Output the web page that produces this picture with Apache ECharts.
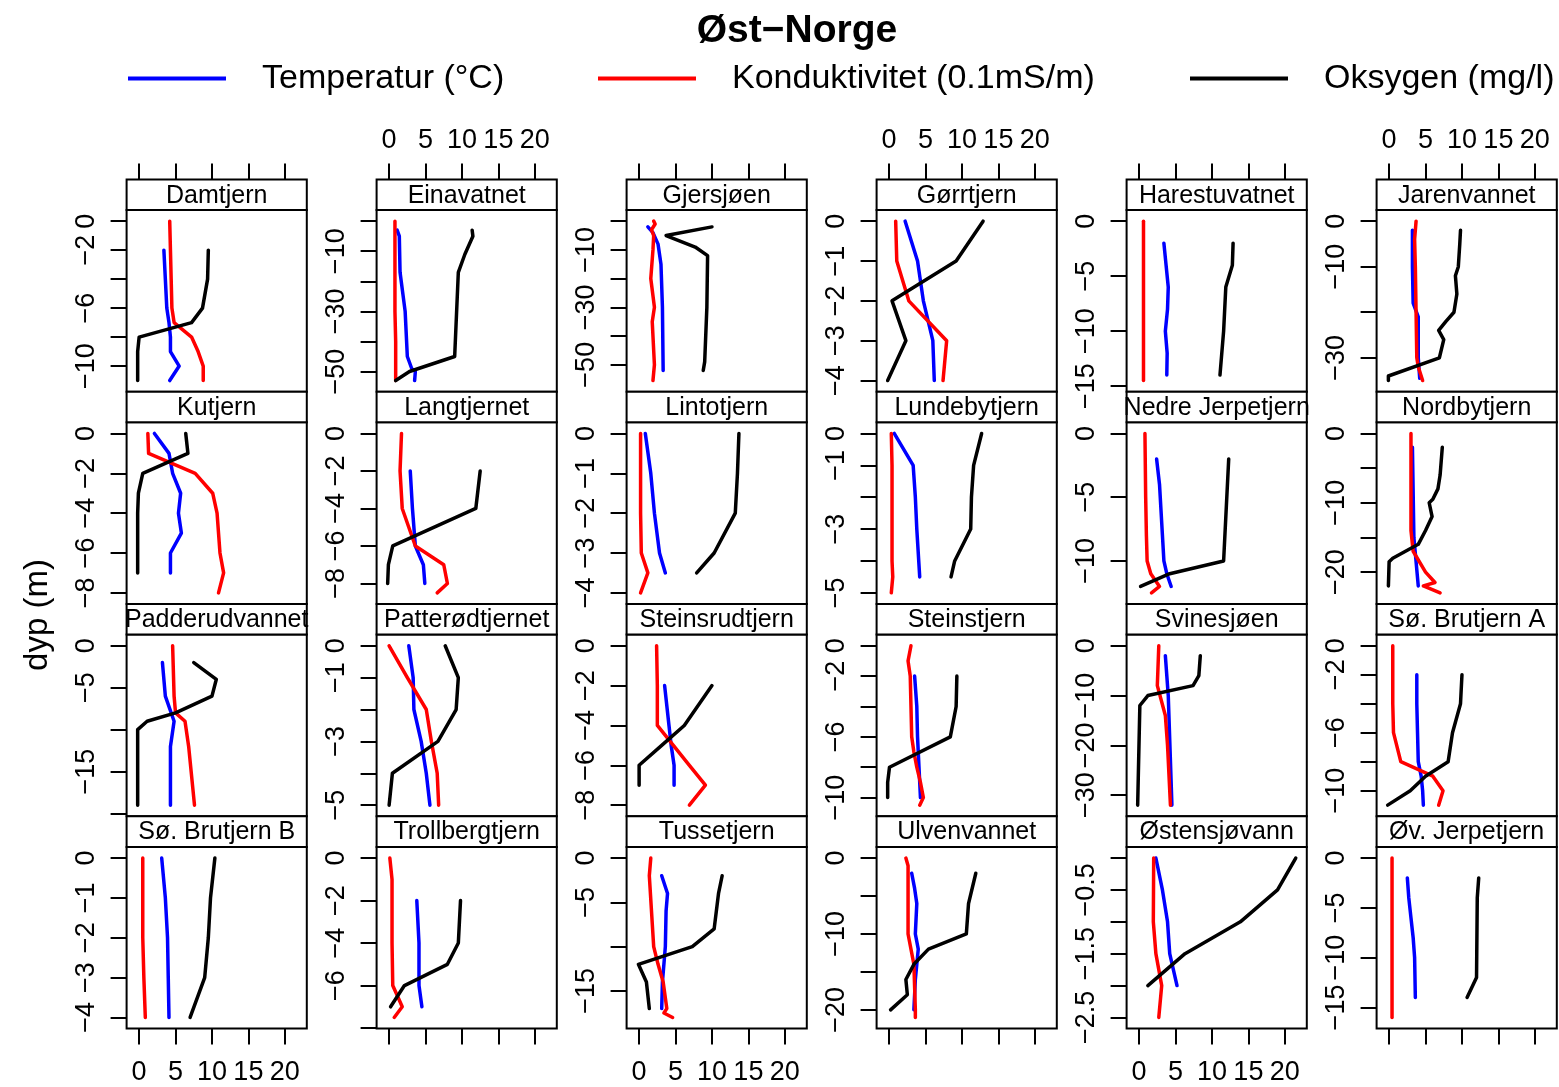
<!DOCTYPE html>
<html><head><meta charset="utf-8">
<script src="https://cdn.jsdelivr.net/npm/echarts@6/dist/echarts.min.js"></script>
<style>html,body{margin:0;padding:0;background:#fff}#c{width:1559px;height:1087px}</style>
</head><body><div id="c"></div>
<script>
// ---------- DATA ----------
const lakes = ['Damtjern','Einavatnet','Gjersjøen','Gørrtjern','Harestuvatnet','Jarenvannet',
  'Kutjern','Langtjernet','Lintotjern','Lundebytjern','Nedre Jerpetjern','Nordbytjern',
  'Padderudvannet','Patterødtjernet','Steinsrudtjern','Steinstjern','Svinesjøen','Sø. Brutjern A',
  'Sø. Brutjern B','Trollbergtjern','Tussetjern','Ulvenvannet','Østensjøvann','Øv. Jerpetjern'];

// each entry: [depth (m), value]
const temperatur = [
  [[-2,3.4],[-4,3.6],[-6,3.8],[-7,4.1],[-8,4.3],[-9,4.3],[-10,5.5],[-11,4.2]],
  [[-3,1.1],[-5,1.4],[-17,1.5],[-30,2.2],[-45,2.5],[-49,3.1],[-50,3.6],[-53,3.5]],
  [[-2,1.2],[-4,1.9],[-8,2.6],[-15,3.0],[-30,3.2],[-52,3.3]],
  [[0,2.2],[-1,3.9],[-2,4.7],[-3,6.0],[-4,6.2]],
  [[-2,3.4],[-4,3.7],[-6,4.0],[-8,3.9],[-10,3.6],[-12,3.85],[-14,3.8]],
  [[-2,3.2],[-10,3.2],[-18,3.3],[-21,4.0],[-30,4.0],[-34.5,4.2]],
  [[0,2.1],[-1,4.1],[-2,4.6],[-3,5.7],[-4,5.4],[-5,5.8],[-6,4.3],[-7,4.3]],
  [[-2,2.9],[-4,3.2],[-6,3.6],[-7,4.7],[-8,4.9]],
  [[0,0.85],[-1,1.6],[-2,2.1],[-3,2.8],[-3.5,3.6]],
  [[0,0.7],[-1,3.3],[-2,3.6],[-3,3.8],[-4.5,4.2]],
  [[-2,2.4],[-4,2.8],[-6,3.0],[-8,3.2],[-10,3.4],[-11,3.8],[-12,4.4]],
  [[-2,3.2],[-15,3.4],[-22,4.0]],
  [[-2,3.2],[-6,3.6],[-9,4.8],[-12,4.3],[-19,4.3]],
  [[0,2.7],[-1,3.3],[-2,3.4],[-3,4.4],[-4,5.1],[-5,5.6]],
  [[-2,3.5],[-4,4.1],[-5,4.4],[-6,4.8],[-7,4.8]],
  [[-2,3.5],[-4,3.8],[-6,3.9],[-8,4.1],[-10,4.3]],
  [[-2,3.6],[-10,4.0],[-32,4.5]],
  [[-2,3.8],[-4,3.8],[-6,3.9],[-8,4.0],[-9,4.4],[-10,4.6],[-11,4.7]],
  [[0,3.1],[-1,3.6],[-2,3.9],[-3,4.0],[-4,4.1]],
  [[-2,3.8],[-4,4.1],[-6,4.1],[-7,4.5]],
  [[-2,3.1],[-4,3.9],[-6,3.7],[-10,3.6],[-14,3.2],[-17,3.1]],
  [[-2,3.1],[-4,3.5],[-6,3.8],[-10,3.6],[-12,4.0],[-16,3.6],[-20,3.4]],
  [[0,2.3],[-0.5,3.2],[-1,3.9],[-1.5,4.2],[-2,5.2]],
  [[-2,2.5],[-4,2.7],[-6,3.0],[-8,3.3],[-10,3.5],[-14,3.6]]
];
const konduktivitet = [
  [[0,4.2],[-2,4.3],[-4,4.4],[-6,4.5],[-7,4.8],[-8,7.2],[-9,8.1],[-10,8.8],[-11,8.8]],
  [[0,0.8],[-10,0.8],[-20,0.8],[-30,0.8],[-40,0.9],[-53,0.9]],
  [[0,2.0],[-1,2.2],[-3,1.7],[-5,2.0],[-10,1.9],[-20,1.6],[-30,2.1],[-35,1.8],[-50,2.1],[-55.5,1.9]],
  [[0,0.9],[-1,1.05],[-2,2.7],[-3,7.9],[-4,7.4]],
  [[0,0.6],[-5,0.6],[-10,0.6],[-14.5,0.6]],
  [[0,3.7],[-4,3.5],[-10,3.6],[-20,3.7],[-30,3.8],[-32,4.0],[-35,4.6]],
  [[0,1.2],[-1,1.3],[-2,7.7],[-3,10.1],[-4,10.7],[-6,11.1],[-7,11.6],[-8,10.9]],
  [[0,1.7],[-2,1.5],[-4,1.8],[-6,3.6],[-7,7.5],[-8,8.0],[-8.5,6.6]],
  [[0,0.2],[-2,0.2],[-3,0.3],[-3.5,1.2],[-4,0.2]],
  [[0,0.3],[-1,0.4],[-4,0.4],[-4.5,0.5],[-5,0.3]],
  [[0,0.8],[-5,0.9],[-8,1.0],[-10,1.1],[-11,1.6],[-12,2.8],[-12.5,1.7]],
  [[0,3.0],[-5,3.0],[-10,3.0],[-14,3.0],[-17,3.3],[-20,5.0],[-21.5,6.3],[-22,4.7],[-23,7.0]],
  [[0,4.6],[-6,4.8],[-8,5.0],[-9,6.3],[-12,6.8],[-19,7.6]],
  [[0,0.0],[-1,2.5],[-2,5.1],[-3,5.8],[-4,6.6],[-5,6.8]],
  [[0,2.4],[-2,2.5],[-4,2.5],[-5,4.7],[-6,6.9],[-7,9.1],[-8,6.9]],
  [[0,3.0],[-1,2.6],[-2,2.9],[-6,3.1],[-7,3.4],[-8,3.8],[-9,4.3],[-10,4.7],[-10.5,4.2]],
  [[0,2.7],[-8,2.5],[-14,3.6],[-20,3.9],[-32,4.3]],
  [[0,0.5],[-2,0.5],[-4,0.5],[-6,0.6],[-8,1.6],[-9,6.0],[-10,7.4],[-11,6.8]],
  [[0,0.5],[-2,0.5],[-3,0.65],[-4,0.85]],
  [[0,0.1],[-1,0.4],[-2,0.4],[-4,0.4],[-6,0.5],[-7,1.8],[-7.5,0.7]],
  [[0,1.6],[-2,1.4],[-10,2.0],[-12,2.6],[-14,3.3],[-17,3.8],[-17.5,3.4],[-18,4.6]],
  [[0,2.3],[-1,2.6],[-10,2.6],[-14,3.4],[-20,3.6],[-21,3.6]],
  [[0,2.0],[-1,1.95],[-1.5,2.3],[-2,3.1],[-2.5,2.7]],
  [[0,0.4],[-5,0.4],[-10,0.4],[-16,0.4]]
];
const oksygen = [
  [[-2,9.5],[-4,9.4],[-6,8.7],[-7,7.2],[-8,0.0],[-9,-0.2],[-11,-0.2]],
  [[-3,11.4],[-5,11.5],[-11,10.4],[-17,9.5],[-45,9.0],[-50,2.8],[-53,0.9]],
  [[-2,10.0],[-5,3.7],[-9,7.7],[-12,9.4],[-30,9.3],[-49,9.0],[-52,8.8]],
  [[0,12.9],[-1,9.2],[-2,0.4],[-3,2.3],[-4,-0.2]],
  [[-2,12.9],[-4,12.8],[-6,11.9],[-10,11.6],[-14,11.1]],
  [[-2,9.8],[-5,9.7],[-10,9.5],[-12,9.1],[-16,9.3],[-20,8.9],[-22,7.8],[-24,6.8],[-26,7.5],[-30,6.9],[-34,-0.1],[-35,-0.1]],
  [[0,6.4],[-1,6.7],[-2,0.5],[-3,-0.1],[-4,-0.2],[-7,-0.2]],
  [[-2,12.5],[-4,11.9],[-6,0.5],[-7,-0.1],[-8,-0.2]],
  [[0,13.7],[-1,13.5],[-2,13.2],[-3,10.3],[-3.5,7.9]],
  [[0,12.7],[-1,11.6],[-2,11.3],[-3,11.2],[-4,9.0],[-4.5,8.5]],
  [[-2,12.3],[-10,11.6],[-11,4.2],[-12,0.2]],
  [[-2,7.3],[-6,7.0],[-8,6.7],[-9.5,6.0],[-10,5.5],[-12,5.9],[-14,5.0],[-16,4.0],[-18,0.5],[-18.5,0.0],[-22,-0.1]],
  [[-2,7.5],[-4,10.6],[-6,10.0],[-8,5.0],[-9,1.1],[-10,-0.2],[-19,-0.2]],
  [[0,7.7],[-1,9.5],[-2,9.2],[-3,6.7],[-4,0.45],[-5,0.0]],
  [[-2,10.0],[-4,6.2],[-5,3.1],[-6,0.0],[-7,0.0]],
  [[-2,9.3],[-4,9.2],[-6,8.4],[-8,0.05],[-9,-0.2],[-10,-0.2]],
  [[-2,8.4],[-6,8.2],[-8,7.4],[-10,1.2],[-12,0.1],[-32,-0.2]],
  [[-2,10.0],[-4,9.8],[-6,8.7],[-8,8.1],[-9,5.0],[-10,2.9],[-11,-0.2]],
  [[0,10.4],[-1,9.8],[-2,9.5],[-3,9.0],[-4,7.0]],
  [[-2,9.8],[-4,9.5],[-5,8.0],[-6,2.1],[-7,0.2]],
  [[-2,11.4],[-4,10.9],[-8,10.3],[-10,7.3],[-12,-0.1],[-14,1.0],[-17,1.4]],
  [[-2,11.9],[-6,10.9],[-10,10.6],[-12,5.4],[-14,3.4],[-16,2.3],[-18,2.5],[-20,0.2]],
  [[0,21.5],[-0.5,19.0],[-1,13.9],[-1.5,6.3],[-2,1.2]],
  [[-2,12.3],[-4,12.1],[-12,12.0],[-14,10.7]]
];

const xTicks = [0,5,10,15,20];
const yTickStep = [2,10,10,1,5,10, 2,2,1,1,5,5, 5,1,2,2,10,2, 1,2,5,5,0.5,5];
const yLabelValues = [
  [0,-2,-6,-10],[-10,-30,-50],[-10,-30,-50],[0,-1,-2,-3,-4],[0,-5,-10,-15],[0,-10,-30],
  [0,-2,-4,-6,-8],[0,-2,-4,-6,-8],[0,-1,-2,-3,-4],[0,-1,-3,-5],[0,-5,-10],[0,-10,-20],
  [0,-5,-15],[0,-1,-3,-5],[0,-2,-4,-6,-8],[0,-2,-6,-10],[0,-10,-20,-30],[0,-2,-6,-10],
  [0,-1,-2,-3,-4],[0,-2,-4,-6],[0,-5,-15],[0,-10,-20],[-0.5,-1.5,-2.5],[0,-5,-10,-15]
];
const seriesNames = ['Temperatur (°C)','Konduktivitet (0.1mS/m)','Oksygen (mg/l)'];
const seriesColors = ['#0000ff','#ff0000','#000000'];

// ---------- BUILD ----------
const FONT = '"Liberation Sans", Arial, Helvetica, sans-serif';
const fmt = v => (v < 0 ? '\u2212' + String(+(-v).toFixed(4)) : String(v));

const allX = [temperatur, konduktivitet, oksygen].flat(2).map(p => p[1]);
const gMin = Math.min(...allX), gMax = Math.max(...allX), gd = gMax - gMin;
const xMin = gMin - 0.07 * gd, xMax = gMax + 0.07 * gd;

const grids = [], xAxes = [], yAxes = [], series = [], graphics = [];
const PW = 180.2, ROWH = 212.3, STRIPH = 30.6;

lakes.forEach((name, i) => {
  const c = i % 6, r = Math.floor(i / 6);
  const left = 126.6 + 250 * c;
  const stripTop = 179.4 + ROWH * r;
  const top = stripTop + STRIPH;
  const h = ROWH - STRIPH;
  grids.push({left: left, top: top, width: PW, height: h, show: true,
    borderColor: '#000', borderWidth: 2, backgroundColor: 'rgba(0,0,0,0)',
    containLabel: false, outerBoundsMode: 'none'});

  const isTop = r === 0, isBottom = r === 3;
  const labeled = (isTop && c % 2 === 1) || (isBottom && c % 2 === 0);
  xAxes.push({gridIndex: i, type: 'value', min: xMin, max: xMax,
    position: isTop ? 'top' : 'bottom', offset: isTop ? STRIPH : 0,
    axisLine: {show: false, onZero: false}, splitLine: {show: false},
    axisTick: {show: isTop || isBottom, customValues: xTicks, length: 16, lineStyle: {color: '#000', width: 2}},
    axisLabel: {show: labeled, customValues: xTicks, fontSize: 27, color: '#000', fontFamily: FONT,
      margin: isTop ? 25 : 30, hideOverlap: false}});

  const depths = [temperatur[i], konduktivitet[i], oksygen[i]].flat().map(p => p[0]);
  const dMin = Math.min(...depths), dMax = Math.max(...depths), dd = dMax - dMin;
  const yMin = dMin - 0.07 * dd, yMax = dMax + 0.07 * dd;
  const ticks = [];
  for (let k = 0; -k * yTickStep[i] >= yMin - 1e-9; k++) ticks.push(+(-k * yTickStep[i]).toFixed(4));
  yAxes.push({gridIndex: i, type: 'value', min: yMin, max: yMax, position: 'left',
    axisLine: {show: false, onZero: false}, splitLine: {show: false},
    axisTick: {show: true, customValues: ticks, length: 16, lineStyle: {color: '#000', width: 2}},
    axisLabel: {show: true, customValues: yLabelValues[i], rotate: 90, fontSize: 27, color: '#000',
      fontFamily: FONT, margin: 27, formatter: fmt, hideOverlap: false}});

  [temperatur, konduktivitet, oksygen].forEach((arr, s) => {
    series.push({type: 'line', name: seriesNames[s], xAxisIndex: i, yAxisIndex: i,
      data: arr[i].map(p => [p[1], p[0]]), symbol: 'none', silent: true,
      lineStyle: {color: seriesColors[s], width: 3.5, join: 'round', cap: 'round'},
      itemStyle: {color: seriesColors[s]}, z: 2 + s});
  });

  graphics.push({type: 'rect', shape: {x: left, y: stripTop, width: PW, height: STRIPH},
    style: {fill: '#fff', stroke: '#000', lineWidth: 2}, z: 10, silent: true});
  graphics.push({type: 'text', x: left + PW / 2, y: stripTop + STRIPH / 2 + 1, z: 11, silent: true,
    style: {text: name, fontSize: 25, fontFamily: FONT, fill: '#000',
      align: 'center', verticalAlign: 'middle', textAlign: 'center', textVerticalAlign: 'middle'}});
});

graphics.push({type: 'text', x: 38, y: 615, rotation: Math.PI / 2, silent: true,
  style: {text: 'dyp (m)', fontSize: 33, fontFamily: FONT, fill: '#000',
    align: 'center', verticalAlign: 'middle', textAlign: 'center', textVerticalAlign: 'middle'}});

const legendLeft = [128, 598, 1190];
const legends = seriesNames.map((n, k) => ({
  data: [n], left: legendLeft[k], top: 61.5, padding: 0, icon: 'rect',
  itemWidth: 98, itemHeight: 4, selectedMode: false,
  textStyle: {fontSize: 34, color: '#000', fontFamily: FONT, padding: [0, 0, 0, 31]}
}));

const chart = echarts.init(document.getElementById('c'), null, {renderer: 'canvas'});
chart.setOption({
  animation: false,
  backgroundColor: '#fff',
  textStyle: {fontFamily: FONT},
  title: {text: 'Øst\u2212Norge', left: 797, top: 12, textAlign: 'center', padding: 0,
    textStyle: {fontSize: 39, fontWeight: 'bold', color: '#000', fontFamily: FONT}},
  legend: legends,
  grid: grids, xAxis: xAxes, yAxis: yAxes, series: series,
  graphic: graphics
});
</script></body></html>
